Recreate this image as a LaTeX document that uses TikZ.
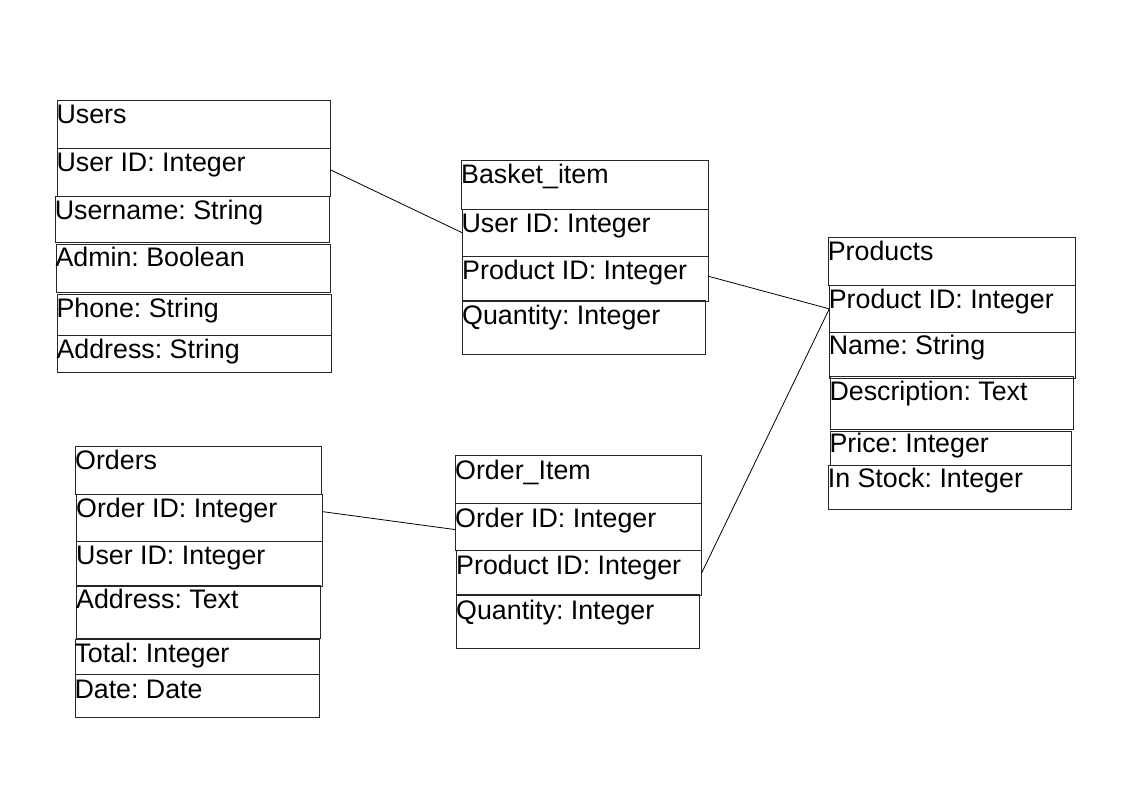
\documentclass[tikz,border=0pt]{standalone}
\usepackage{fontspec}
\setmainfont{Liberation Sans}
\frenchspacing
\tikzset{
  cellbox/.style={draw=black!85, line width=1pt, rectangle, inner sep=0pt, outer sep=0pt, anchor=north west},
  celltext/.style={inner sep=0pt, outer sep=0pt, anchor=base west, font=\fontsize{26.8}{31}\selectfont\frenchspacing, text=black},
  link/.style={draw=black, line width=0.8pt},
}
% name, x1, y1, x2, y2, text, baseline offset
\newcommand\cellrow[7]{%
  \pgfmathsetmacro\cw{#4-#2}\pgfmathsetmacro\ch{#5-#3}%
  \node[cellbox, minimum width=\cw pt, minimum height=\ch pt] (#1) at (#2,#3) {};
  \node[celltext] (#1t) at (#2-0.5,#3+#7+1) {#6};
}
\begin{document}
\begin{tikzpicture}[x=1pt,y=-1pt]
\useasboundingbox (0,0) rectangle (1123,794);
% Users
\cellrow{u0}{57}{100.7}{330}{149}{Users}{22}
\cellrow{u1}{57}{149}{330.5}{196.7}{User ID: Integer}{22}
\cellrow{u2}{55.3}{196.7}{329.3}{242.7}{Username: String}{21.5}
\cellrow{u3}{56}{244}{330.7}{292.7}{Admin: Boolean}{21}
\cellrow{u4}{57}{294}{331}{335}{Phone: String}{22}
\cellrow{u5}{57}{335}{331}{372.7}{Address: String}{22}
% Basket_item
\cellrow{b0}{461.7}{161}{708.3}{209.3}{Basket\_item}{22}
\cellrow{b1}{462}{209.3}{708}{256}{User ID: Integer}{22.5}
\cellrow{b2}{462.7}{256}{708.7}{301.7}{Product ID: Integer}{22}
\cellrow{b3}{462.7}{300}{705.7}{354}{Quantity: Integer}{23}
% Products
\cellrow{p0}{828.3}{237.7}{1075}{285}{Products}{21.6}
\cellrow{p1}{829.3}{285}{1075}{332.7}{Product ID: Integer}{22.7}
\cellrow{p2}{829.3}{332.7}{1075.7}{378.3}{Name: String}{20.6}
\cellrow{p3}{830}{376.7}{1073.3}{429.3}{Description: Text}{22.3}
\cellrow{p4}{830}{431}{1071.7}{465}{Price: Integer}{20.7}
\cellrow{p5}{828.3}{465}{1071.7}{509}{In Stock: Integer}{21.7}
% Orders
\cellrow{o0}{75.7}{446}{321.7}{494.3}{Orders}{22}
\cellrow{o1}{76.7}{494.3}{322.7}{541}{Order ID: Integer}{22}
\cellrow{o2}{76.7}{541}{322.7}{586.7}{User ID: Integer}{22}
\cellrow{o3}{76.7}{585}{320}{638.3}{Address: Text}{22.7}
\cellrow{o4}{75}{639.3}{319.3}{674}{Total: Integer}{22}
\cellrow{o5}{75}{674}{319.3}{717.3}{Date: Date}{23}
% Order_Item
\cellrow{i0}{455.7}{455.7}{701.7}{503.3}{Order\_Item}{22.6}
\cellrow{i1}{455.7}{503.3}{701.7}{550}{Order ID: Integer}{23}
\cellrow{i2}{456.7}{550}{701.7}{595.7}{Product ID: Integer}{23}
\cellrow{i3}{456.7}{594.3}{699.3}{648.3}{Quantity: Integer}{24}
% connectors
\draw[link] ([yshift=3pt]u1.east) -- (b1.west);
\draw[link] ([yshift=2.5pt]b2.east) -- (p1.west);
\draw[link] (i2.east) -- (p1.west);
\draw[link] ([yshift=6pt]o1.east) -- ([yshift=-3pt]i1.west);
\end{tikzpicture}
\end{document}
